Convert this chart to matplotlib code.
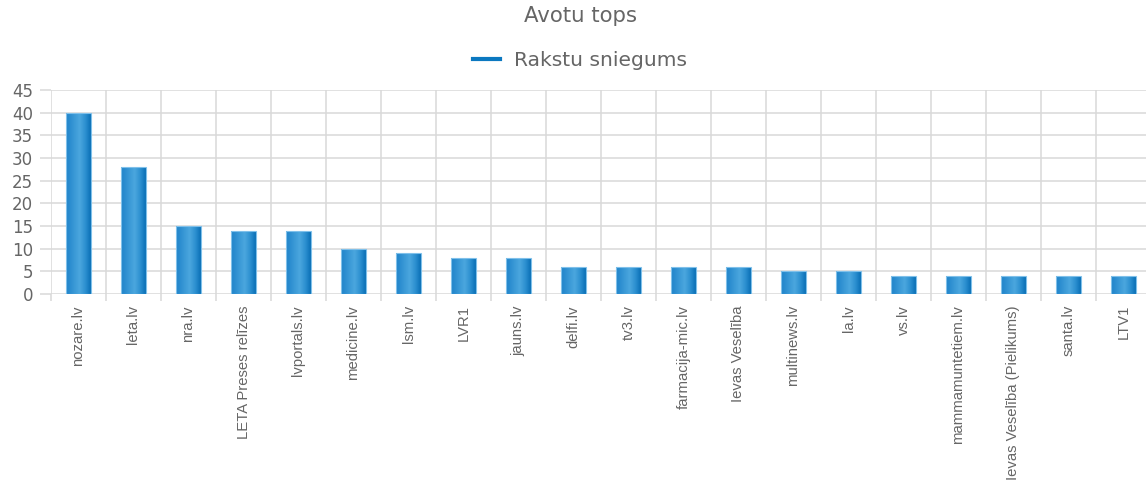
import matplotlib
matplotlib.use('Agg')
import matplotlib.pyplot as plt
from matplotlib.lines import Line2D
from matplotlib.colors import LinearSegmentedColormap
import numpy as np

# data
sources = ['nozare.lv', 'leta.lv', 'nra.lv', 'LETA Preses relīzes', 'lvportals.lv',
           'medicine.lv', 'lsm.lv', 'LVR1', 'jauns.lv', 'delfi.lv', 'tv3.lv',
           'farmacija-mic.lv', 'Ievas Veselība', 'multinews.lv', 'la.lv', 'vs.lv',
           'mammamuntetiem.lv', 'Ievas Veselība (Pielikums)', 'santa.lv', 'LTV1']
counts = [40, 28, 15, 14, 14, 10, 9, 8, 8, 6, 6, 6, 6, 5, 5, 4, 4, 4, 4, 4]
yticks = [0, 5, 10, 15, 20, 25, 30, 35, 40, 45]

title = 'Avotu tops'
series_name = 'Rakstu sniegums'

GRID = '#d9d9d9'
TXT = '#666666'
BLUE = '#0b78c0'

plt.rcParams['font.family'] = ['DejaVu Sans']

W, H = 1146, 482
fig = plt.figure(figsize=(W / 100, H / 100), dpi=100)
ax = fig.add_axes([51 / W, (H - 294) / H, 1100 / W, 204 / H])

x = np.arange(len(sources))
bars = ax.bar(x, counts, width=0.44, facecolor='none', edgecolor='#7fc0ea',
              linewidth=0.8, zorder=3)

# gradient fill clipped to each bar
grad = LinearSegmentedColormap.from_list(
    'bargrad', [(0, '#1f83ca'), (0.55, '#4ba7de'), (0.8, '#2a8ecf'), (1, '#0a6fb6')])
gimg = np.linspace(0, 1, 64).reshape(1, -1)
for b in bars:
    x0, y0 = b.get_x(), b.get_y()
    im = ax.imshow(gimg, cmap=grad, aspect='auto', zorder=2,
                   extent=(x0, x0 + b.get_width(), y0, y0 + b.get_height()))
    im.set_clip_path(b)

ax.set_xlim(-0.5, len(sources) - 0.5)
ax.set_ylim(0, 45)
ax.set_yticks(yticks)
ax.set_xticks(x)
ax.set_xticks(np.arange(-0.5, len(sources), 1), minor=True)
ax.set_xticklabels(sources, rotation=90, fontsize=10.7, color=TXT,
                   family=['Liberation Sans', 'DejaVu Sans'])
ax.tick_params(axis='x', which='major', length=0, pad=8)
ax.tick_params(axis='x', which='minor', length=5, width=1.1, color=GRID)
ax.tick_params(axis='y', length=8, width=1.1, color=GRID, labelsize=12,
               labelcolor=TXT, pad=5)

ax.grid(True, axis='y', color=GRID, linewidth=1.1, zorder=0)
ax.grid(True, axis='x', which='minor', color=GRID, linewidth=1.1, zorder=0)
for s in ax.spines.values():
    s.set_visible(False)
ax.set_axisbelow(True)

fig.text(581 / W, 1 - 16 / H, title, ha='center', va='center',
         fontsize=15.3, color=TXT)
handle = Line2D([], [], color=BLUE, linewidth=3)
fig.legend([handle], [series_name], loc='center', frameon=False,
           bbox_to_anchor=(580 / W, 1 - 61 / H), fontsize=14.6,
           handlelength=1.3, handletextpad=0.7, labelcolor=TXT)

fig.savefig('out.png', dpi=100)
